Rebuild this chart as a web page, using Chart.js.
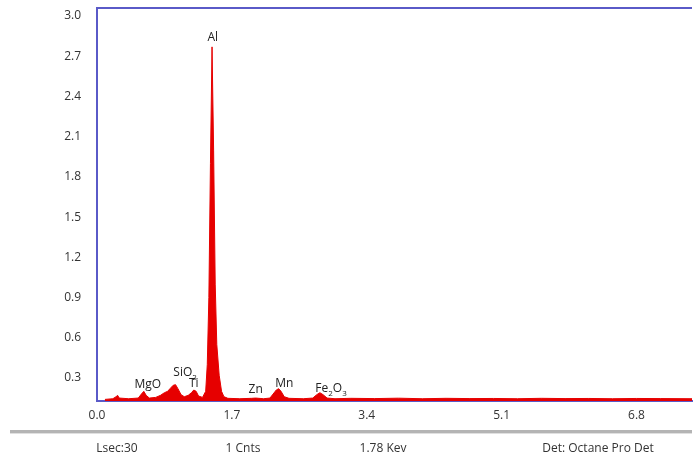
<!DOCTYPE html>
<html>
<head>
  <meta charset="UTF-8">
  <title>EDS spectrum</title>
  <script src="https://cdn.jsdelivr.net/npm/chart.js"></script>
  <style>
    body { margin: 0; background: #fff; font-family: "Open Sans", sans-serif; }
    #wrap { position: relative; width: 697px; height: 459px; }
    #footer-line { position: absolute; left: 10px; top: 430px; width: 682px; height: 3px; background: #b4b4b4; border-bottom: 1px solid #e0e0e0; }
    .foot { position: absolute; top: 439px; font-size: 12px; color: #333; white-space: nowrap; transform: translateX(-50%); }
  </style>
</head>
<body>
<div id="wrap">
  <canvas id="spec" width="697" height="459"></canvas>
  <div id="footer-line"></div>
  <div class="foot" style="left:117px">Lsec:30</div>
  <div class="foot" style="left:243px">1 Cnts</div>
  <div class="foot" style="left:383px">1.78 Kev</div>
  <div class="foot" style="left:598px">Det: Octane Pro Det</div>
</div>
<script>
// spectrum (keV, counts)
var energy = [0.10, 0.20, 0.24, 0.26, 0.28, 0.40, 0.52, 0.56, 0.59, 0.62, 0.66, 0.74, 0.80, 0.85, 0.89, 0.92, 0.96, 0.99, 1.02, 1.06, 1.10, 1.15, 1.19, 1.22, 1.25, 1.28, 1.33, 1.37, 1.39, 1.41, 1.43, 1.45, 1.47, 1.49, 1.51, 1.54, 1.57, 1.60, 1.65, 1.80, 1.95, 2.00, 2.10, 2.18, 2.22, 2.26, 2.29, 2.32, 2.36, 2.42, 2.60, 2.72, 2.77, 2.81, 2.85, 2.90, 3.00, 3.20, 3.50, 3.80, 4.10, 4.40, 4.70, 5.00, 5.30, 5.60, 5.90, 6.20, 6.50, 6.80, 7.10, 7.50];
var counts = [0.140, 0.145, 0.160, 0.170, 0.150, 0.145, 0.150, 0.180, 0.200, 0.170, 0.150, 0.155, 0.170, 0.190, 0.200, 0.220, 0.245, 0.250, 0.220, 0.175, 0.160, 0.170, 0.190, 0.210, 0.200, 0.165, 0.155, 0.200, 0.400, 0.900, 1.900, 2.770, 2.000, 1.000, 0.550, 0.320, 0.200, 0.160, 0.148, 0.145, 0.148, 0.150, 0.145, 0.150, 0.180, 0.210, 0.220, 0.200, 0.160, 0.148, 0.145, 0.150, 0.175, 0.190, 0.175, 0.150, 0.145, 0.148, 0.146, 0.149, 0.145, 0.148, 0.146, 0.147, 0.145, 0.148, 0.146, 0.147, 0.145, 0.147, 0.146, 0.145];

var xTicks = [0.0, 1.7, 3.4, 5.1, 6.8];
var yTicks = [0.3, 0.6, 0.9, 1.2, 1.5, 1.8, 2.1, 2.4, 2.7, 3.0];

// peak labels: text pieces (sub = subscript), label centre in keV / counts
var peakNames = [
  [['Al', 0]],
  [['MgO', 0]],
  [['SiO', 0], ['2', 1]],
  [['Ti', 0]],
  [['Zn', 0]],
  [['Mn', 0]],
  [['Fe', 0], ['2', 1], ['O', 0], ['3', 1]]
];
var peakEnergy = [1.46, 0.64, 1.11, 1.22, 2.00, 2.36, 2.95];
var peakCount = [2.84, 0.25, 0.34, 0.26, 0.21, 0.26, 0.22];

var axisBlue = '#5a5ac8';

var points = energy.map(function (e, i) {
  return { x: e, y: counts[i] };
});

var peakLabels = {
  id: 'peakLabels',
  afterDatasetsDraw: function (chart) {
    var ctx = chart.ctx;
    var xs = chart.scales.x, ys = chart.scales.y;
    ctx.save();
    ctx.fillStyle = '#222';
    ctx.textBaseline = 'middle';
    ctx.textAlign = 'left';
    peakNames.forEach(function (parts, i) {
      var total = 0;
      parts.forEach(function (p) {
        ctx.font = (p[1] ? '8px' : '12px') + ' "Open Sans", sans-serif';
        total += ctx.measureText(p[0]).width;
      });
      var px = xs.getPixelForValue(peakEnergy[i]) - total / 2;
      var py = ys.getPixelForValue(peakCount[i]);
      parts.forEach(function (p) {
        ctx.font = (p[1] ? '8px' : '12px') + ' "Open Sans", sans-serif';
        ctx.fillText(p[0], px, p[1] ? py + 5 : py);
        px += ctx.measureText(p[0]).width;
      });
    });
    ctx.restore();
  }
};

var frame = {
  id: 'frame',
  afterDraw: function (chart) {
    var a = chart.chartArea, ctx = chart.ctx;
    ctx.save();
    ctx.strokeStyle = axisBlue;
    ctx.lineWidth = 2;
    ctx.beginPath();
    ctx.moveTo(a.left, a.bottom);
    ctx.lineTo(a.left, a.top);
    ctx.lineTo(a.right, a.top);
    ctx.stroke();
    ctx.restore();
  }
};

new Chart(document.getElementById('spec'), {
  type: 'line',
  data: {
    datasets: [{
      label: 'Spectrum',
      data: points,
      borderColor: '#e60000',
      backgroundColor: '#e60000',
      borderWidth: 1,
      pointRadius: 0,
      tension: 0,
      fill: 'start'
    }]
  },
  options: {
    responsive: false,
    animation: false,
    layout: { padding: { left: 0, right: 5, top: 8, bottom: 0 } },
    plugins: { legend: { display: false }, tooltip: { enabled: false } },
    scales: {
      x: {
        type: 'linear',
        min: 0,
        max: 7.5,
        afterBuildTicks: function (scale) {
          scale.ticks = xTicks.map(function (v) { return { value: v }; });
        },
        afterFit: function (scale) {
          scale.height = 58;
          scale.paddingLeft = 0;
          scale.paddingRight = 0;
        },
        grid: { display: false, drawTicks: false },
        border: { display: true, color: axisBlue, width: 2 },
        ticks: {
          padding: 7,
          color: '#333',
          font: { family: 'Open Sans', size: 12 },
          maxRotation: 0,
          callback: function (v) { return v.toFixed(1); }
        }
      },
      y: {
        min: 0.128,
        max: 3.06,
        afterBuildTicks: function (scale) {
          scale.ticks = yTicks.map(function (v) { return { value: v }; });
        },
        afterFit: function (scale) {
          scale.width = 97;
          scale.paddingTop = 0;
          scale.paddingBottom = 0;
        },
        grid: { display: false, drawTicks: false },
        border: { display: true, color: axisBlue, width: 2 },
        ticks: {
          padding: 16,
          color: '#333',
          font: { family: 'Open Sans', size: 12 },
          callback: function (v) { return v.toFixed(1); }
        }
      }
    }
  },
  plugins: [peakLabels, frame]
});
</script>
</body>
</html>
